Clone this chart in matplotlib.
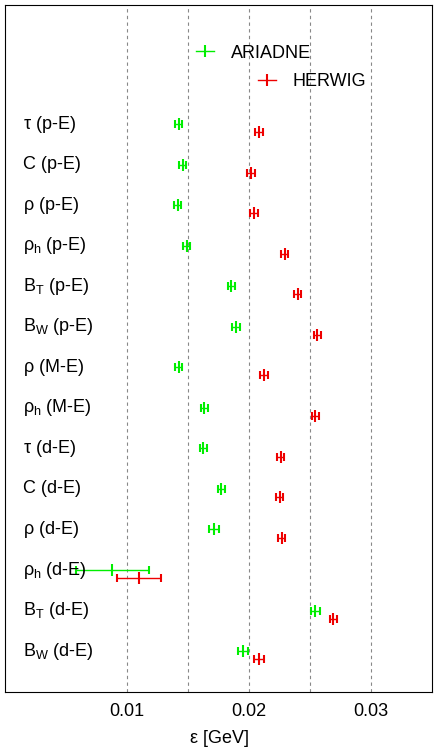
import matplotlib
matplotlib.use("Agg")
import matplotlib.pyplot as plt

labels = [r"$\tau$ (p-E)", "C (p-E)", r"$\rho$ (p-E)", r"$\rho_{\rm h}$ (p-E)",
          r"B$_{\rm T}$ (p-E)", r"B$_{\rm W}$ (p-E)", r"$\rho$ (M-E)", r"$\rho_{\rm h}$ (M-E)",
          r"$\tau$ (d-E)", "C (d-E)", r"$\rho$ (d-E)", r"$\rho_{\rm h}$ (d-E)",
          r"B$_{\rm T}$ (d-E)", r"B$_{\rm W}$ (d-E)"]
ariadne = [0.01423, 0.01455, 0.01415, 0.01488, 0.01854, 0.01894, 0.01423, 0.01634,
           0.01626, 0.01772, 0.01715, 0.0088, 0.02545, 0.01949]
ariadne_err = [0.0003, 0.0003, 0.0003, 0.0003, 0.0003, 0.0003, 0.0003, 0.0003,
               0.0003, 0.0003, 0.0004, 0.0030, 0.0004, 0.0004]
herwig = [0.02081, 0.02016, 0.0204, 0.02293, 0.02398, 0.02561, 0.02122, 0.02545,
          0.0226, 0.02252, 0.02268, 0.01098, 0.0269, 0.02084]
herwig_err = [0.0003, 0.0003, 0.0003, 0.0003, 0.0003, 0.0003, 0.0003, 0.0003,
              0.0003, 0.0003, 0.0003, 0.0018, 0.0003, 0.0004]

plt.rcParams['font.family'] = ['Liberation Sans', 'DejaVu Sans']
plt.rcParams['mathtext.fontset'] = 'custom'
plt.rcParams['mathtext.rm'] = 'Liberation Sans'
plt.rcParams['mathtext.it'] = 'Liberation Sans'

fig = plt.figure(figsize=(4.34, 7.55), dpi=100)
ax = fig.add_axes([5/434, 1-692/755, 427/434, 687/755])

G = '#00ee00'
R = '#ee0000'
yg = list(range(len(labels)))
yr = [y + 0.2 for y in yg]
ax.errorbar(ariadne, yg, xerr=ariadne_err, fmt='|', color=G, ms=9, capsize=3, lw=1, mew=1.5)
ax.errorbar(herwig, yr, xerr=herwig_err, fmt='|', color=R, ms=9, capsize=3, lw=1, mew=1.5)
for y, t in zip(yg, labels):
    ax.text(0.0015, y, t, fontsize=13, va='center', ha='left')

hg = ax.errorbar([0], [0], xerr=[0.0003], fmt='|', color=G, ms=9, capsize=3, lw=1, mew=1.5, visible=False)
hr = ax.errorbar([0], [0], xerr=[0.0003], fmt='|', color=R, ms=9, capsize=3, lw=1, mew=1.5, visible=False)
from matplotlib.lines import Line2D
lg = Line2D([], [], color=G, marker='|', ms=9, lw=1, mew=1.5)
lr = Line2D([], [], color=R, marker='|', ms=9, lw=1, mew=1.5)
l1 = ax.legend([lg], ['ARIADNE'], loc='center left', bbox_to_anchor=(0.41, 1-48/687),
               frameon=False, fontsize=13, handlelength=1.0, handletextpad=0.9)
ax.add_artist(l1)
ax.legend([lr], ['HERWIG'], loc='center left', bbox_to_anchor=(0.555, 1-77/687),
          frameon=False, fontsize=13, handlelength=1.0, handletextpad=0.9)

ax.set_xlim(0, 0.035)
ax.set_ylim(14.01, -2.94)
ax.set_yticks([])
ax.set_xticks([0.01, 0.02, 0.03])
ax.set_xticklabels(['0.01', '0.02', '0.03'], fontsize=13)
ax.tick_params(axis='x', length=0, pad=8)
for g in [0.01, 0.015, 0.02, 0.025, 0.03]:
    ax.axvline(g, color='#888888', ls=(0, (3, 3)), lw=0.8, zorder=0)
ax.set_xlabel(r'$\epsilon$ [GeV]', fontsize=13, labelpad=6)

fig.savefig('out.png', dpi=100)
